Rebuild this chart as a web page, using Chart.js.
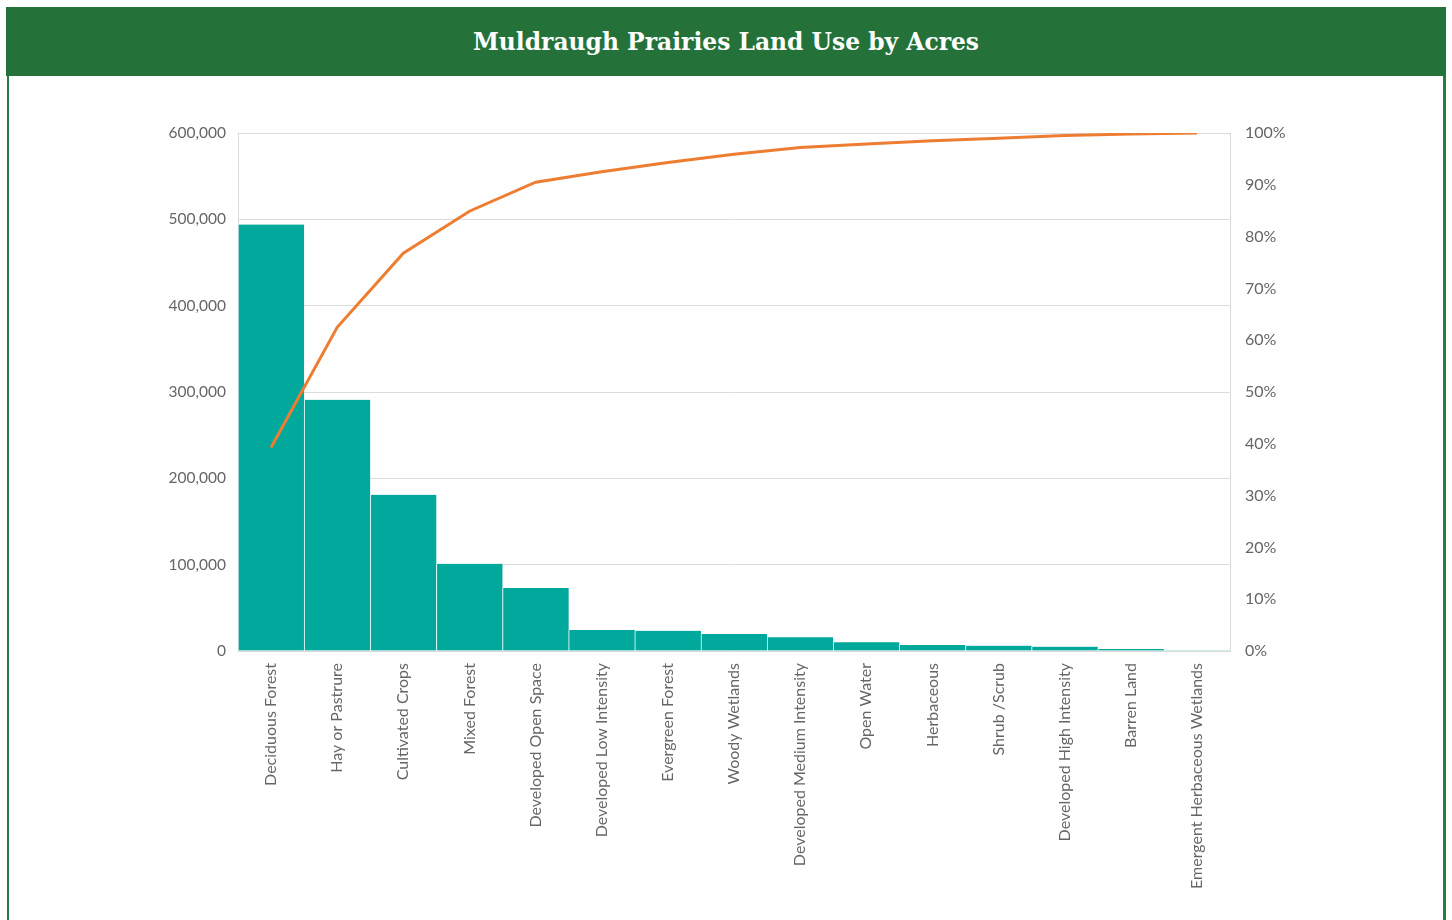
<!DOCTYPE html>
<html>
<head>
<meta charset="utf-8">
<script src="https://cdn.jsdelivr.net/npm/chart.js@4.4.1/dist/chart.umd.min.js"></script>
<style>
  html, body { margin: 0; padding: 0; background: #ffffff; width: 1452px; height: 920px; overflow: hidden; position: relative; }
  #header { position: absolute; left: 6px; top: 7px; width: 1440px; height: 69px; background: #24723a;
    color: #ffffff; font-family: "DejaVu Serif", serif; font-weight: bold; font-size: 23.4px;
    display: flex; align-items: center; justify-content: center; letter-spacing: 0px; }
  #lb { position: absolute; left: 7px; top: 76px; width: 2px; height: 844px; background: #2b7a3f; }
  #rb { position: absolute; left: 1443px; top: 76px; width: 3px; height: 844px; background: #2b7a3f; }
  #wrap { position: absolute; left: 0; top: 80px; width: 1452px; height: 830px; }
</style>
</head>
<body>
<div id="header">Muldraugh Prairies Land Use by Acres</div>
<div id="lb"></div>
<div id="rb"></div>
<div id="wrap"><canvas id="c" width="1452" height="830"></canvas></div>
<script>
const categories = ["Deciduous Forest", "Hay or Pastrure", "Cultivated Crops", "Mixed Forest",
  "Developed Open Space", "Developed Low Intensity", "Evergreen Forest", "Woody Wetlands",
  "Developed Medium Intensity", "Open Water", "Herbaceous", "Shrub /Scrub",
  "Developed High Intensity", "Barren Land", "Emergent Herbaceous Wetlands"];
const acres = [494000, 291000, 181000, 101000, 73000, 24300, 23500, 19700, 15800, 10000, 7000, 6200, 5000, 2300, 200];
const cumulativePct = [39.3, 62.5, 76.8, 84.9, 90.5, 92.5, 94.3, 95.9, 97.2, 97.9, 98.5, 99.0, 99.5, 99.8, 100];
const acreTicks = [0, 100000, 200000, 300000, 400000, 500000, 600000];
const pctTicks = [0, 10, 20, 30, 40, 50, 60, 70, 80, 90, 100];

const fam = "Lato, 'Open Sans', sans-serif";
const tickColor = '#666666';

new Chart(document.getElementById('c'), {
  data: {
    labels: categories,
    datasets: [
      {
        type: 'line', data: cumulativePct, yAxisID: 'y1', order: 0,
        borderColor: '#ed7d31', borderWidth: 3, pointRadius: 0, tension: 0, fill: false
      },
      {
        type: 'bar', data: acres, yAxisID: 'y', order: 1,
        backgroundColor: '#00a99b', borderColor: 'rgba(255,255,255,0.55)',
        borderWidth: { left: 1, right: 0, top: 0, bottom: 0 }, borderSkipped: false,
        barPercentage: 1.0, categoryPercentage: 1.0
      }
    ]
  },
  options: {
    responsive: false,
    animation: false,
    layout: { padding: { top: 53, left: 0, right: 0, bottom: 0 } },
    plugins: { legend: { display: false }, tooltip: { enabled: false }, title: { display: false } },
    scales: {
      x: {
        grid: { display: false, drawTicks: false },
        border: { display: true, color: '#d9d9d9', width: 1 },
        ticks: { autoSkip: false, maxRotation: 90, minRotation: 90, padding: 12,
          font: { family: fam, size: 16 }, color: tickColor },
        afterFit: s => { s.height = 830 - 571; }
      },
      y: {
        position: 'left', min: 0, max: 600000,
        afterBuildTicks: s => { s.ticks = acreTicks.map(v => ({ value: v })); },
        grid: { color: '#dcdcdc', lineWidth: 1, drawTicks: false },
        border: { display: true, color: '#d9d9d9' },
        ticks: { padding: 12, font: { family: fam, size: 15.5 }, color: tickColor,
          callback: v => v.toLocaleString('en-US') },
        afterFit: s => { s.width = 238; }
      },
      y1: {
        position: 'right', min: 0, max: 100,
        afterBuildTicks: s => { s.ticks = pctTicks.map(v => ({ value: v })); },
        grid: { display: false, drawTicks: false },
        border: { display: true, color: '#d9d9d9' },
        ticks: { padding: 15, font: { family: fam, size: 16 }, color: tickColor, callback: v => v + '%' },
        afterFit: s => { s.width = 1452 - 1230; }
      }
    }
  }
});
</script>
</body>
</html>
